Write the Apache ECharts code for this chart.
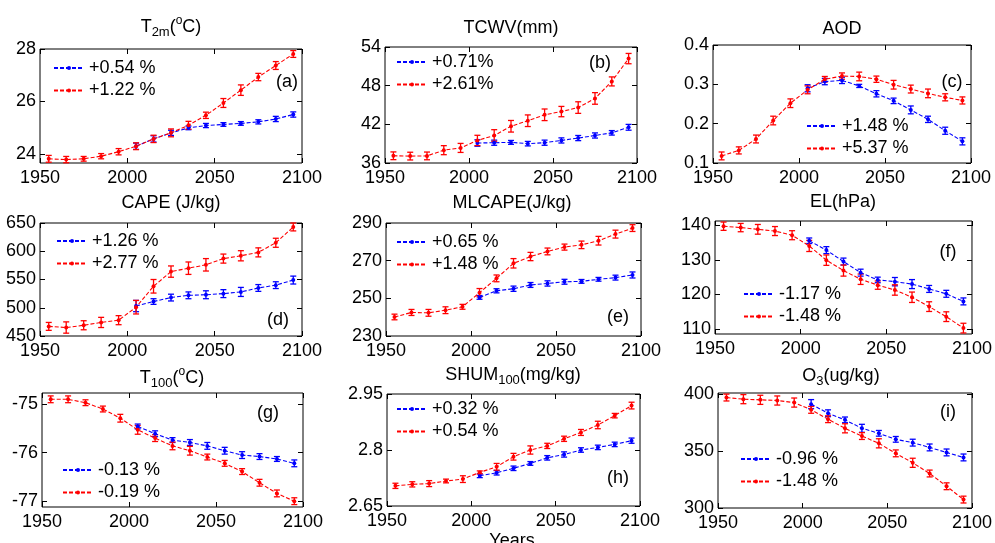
<!DOCTYPE html>
<html><head><meta charset="utf-8">
<script src="https://cdn.jsdelivr.net/npm/echarts@6/dist/echarts.min.js"></script>
<style>html,body{margin:0;padding:0;background:#fff}#c{width:995px;height:543px}</style>
</head><body><div id="c"></div>
<script>
// ---------- DATA ----------
const yearsAll = [1955,1965,1975,1985,1995,2005,2015,2025,2035,2045,2055,2065,2075,2085,2095];
const yearsFuture = [2005,2015,2025,2035,2045,2055,2065,2075,2085,2095];
const xTicks = [1950, 2000, 2050, 2100];

const t2mRed = [23.81,23.78,23.81,23.91,24.08,24.29,24.57,24.80,25.09,25.47,25.94,26.43,26.93,27.37,27.81];
const t2mRedErr = [0.13,0.12,0.09,0.1,0.12,0.13,0.14,0.15,0.15,0.12,0.17,0.2,0.14,0.15,0.13];
const t2mBlue = [24.29,24.57,24.80,24.99,25.08,25.12,25.16,25.22,25.33,25.50];
const t2mBlueErr = [0.12,0.12,0.1,0.07,0.08,0.07,0.07,0.08,0.1,0.1];
const t2mTicks = [24,26,28];
const t2mLegend = ['+0.54 %','+1.22 %'];

const tcwvRed = [37.12,37.07,37.10,37.99,38.34,39.50,40.27,41.70,42.56,43.48,43.98,44.60,46.02,48.66,52.20];
const tcwvRedErr = [0.6,0.6,0.6,0.7,0.7,0.8,0.9,0.9,0.9,0.9,0.8,0.9,0.9,0.7,0.8];
const tcwvBlue = [39.10,39.15,39.20,39.00,39.15,39.50,39.87,40.27,40.68,41.54];
const tcwvBlueErr = [0.5,0.4,0.3,0.35,0.4,0.4,0.4,0.4,0.35,0.45];
const tcwvTicks = [36,42,48,54];
const tcwvLegend = ['+0.71%','+2.61%'];

const aodRed = [0.118,0.132,0.161,0.208,0.252,0.286,0.313,0.321,0.320,0.313,0.299,0.288,0.277,0.267,0.259];
const aodRedErr = [0.01,0.009,0.01,0.011,0.011,0.01,0.007,0.008,0.011,0.008,0.011,0.01,0.011,0.009,0.009];
const aodBlue = [0.290,0.307,0.310,0.296,0.276,0.258,0.235,0.211,0.182,0.155];
const aodBlueErr = [0.009,0.008,0.008,0.004,0.008,0.007,0.01,0.008,0.009,0.009];
const aodTicks = [0.1,0.2,0.3,0.4];
const aodLegend = ['+1.48 %','+5.37 %'];

const capeRed = [467,465,469,474,478,501,538,564,570,576,587,592,598,615,643];
const capeRedErr = [7,10,8,9,8,12,12,10,11,11,8,9,8,8,7];
const capeBlue = [503,511,518,522,523,525,528,535,540,549];
const capeBlueErr = [10,5,6,6,7,7,8,6,6,7];
const capeTicks = [450,500,550,600,650];
const capeLegend = ['+1.26 %','+2.77 %'];

const mlcapeRed = [240.1,242.5,242.3,243.7,245.5,253.0,260.6,268.6,272.2,274.9,277.2,278.4,280.6,284.1,287.3];
const mlcapeRedErr = [1.5,1.6,1.8,1.8,1.3,2.2,1.8,2.5,2.2,1.8,1.6,2.0,2.3,2.1,1.8];
const mlcapeBlue = [250.5,254.0,255.1,257.1,257.9,258.8,259.0,260.1,261.0,262.4];
const mlcapeBlueErr = [1.0,1.1,1.4,1.3,1.4,1.3,1.0,1.0,1.3,1.6];
const mlcapeTicks = [230,250,270,290];
const mlcapeLegend = ['+0.65 %','+1.48 %'];

const elRed = [139.7,139.3,138.8,138.3,137.1,134.0,129.9,126.9,124.4,122.7,121.3,119.2,116.5,113.6,110.3];
const elRedErr = [1.2,1.2,1.4,1.3,1.3,1.6,1.5,1.6,1.5,1.2,1.5,1.5,1.4,1.4,1.4];
const elBlue = [135.5,132.8,129.5,126.3,124.2,123.7,123.0,121.6,120.2,118.0];
const elBlueErr = [0.8,1.0,1.0,1.0,0.8,1.2,1.3,1.0,1.0,1.0];
const elTicks = [110,120,130,140];
const elLegend = ['-1.17 %','-1.48 %'];

const t100Red = [-74.90,-74.90,-74.97,-75.10,-75.29,-75.53,-75.70,-75.86,-75.96,-76.09,-76.22,-76.39,-76.62,-76.84,-77.00];
const t100RedErr = [0.07,0.07,0.06,0.06,0.08,0.09,0.07,0.08,0.09,0.06,0.06,0.06,0.07,0.07,0.07];
const t100Blue = [-75.46,-75.61,-75.74,-75.79,-75.86,-75.96,-76.05,-76.08,-76.13,-76.22];
const t100BlueErr = [0.05,0.06,0.05,0.06,0.07,0.07,0.07,0.06,0.05,0.07];
const t100Ticks = [-77,-76,-75];
const t100Legend = ['-0.13 %','-0.19 %'];

const shumRed = [2.704,2.708,2.710,2.717,2.722,2.740,2.755,2.782,2.800,2.811,2.830,2.847,2.867,2.892,2.919];
const shumRedErr = [0.007,0.007,0.008,0.005,0.009,0.004,0.009,0.009,0.011,0.007,0.007,0.008,0.01,0.006,0.009];
const shumBlue = [2.731,2.739,2.751,2.764,2.779,2.788,2.800,2.807,2.815,2.825];
const shumBlueErr = [0.005,0.006,0.006,0.005,0.006,0.007,0.006,0.006,0.006,0.007];
const shumTicks = [2.65,2.8,2.95];
const shumLegend = ['+0.32 %','+0.54 %'];

const o3Red = [397.0,395.6,395.0,394.4,392.6,386.2,378.0,370.0,363.2,356.8,348.0,339.7,330.3,319.1,307.4];
const o3RedErr = [3,4,4,4,4,3,3,4,3,4,3,4,3,3,3];
const o3Blue = [391.2,383.2,377.4,370.0,365.6,360.3,357.4,353.2,348.8,344.4];
const o3BlueErr = [4,3,2.5,3.5,2.5,2.5,3,3,3,3];
const o3Ticks = [300,350,400];
const o3Legend = ['-0.96 %','-1.48 %'];

// ---------- LAYOUT / STYLE ----------
const FONT = 'Liberation Sans, Arial, sans-serif';
const RED = '#ff0000', BLUE = '#0000ff';

const panels = [
  {red:t2mRed, redErr:t2mRedErr, blue:t2mBlue, blueErr:t2mBlueErr, ticks:t2mTicks, legend:t2mLegend,
   yMin:23.65, yMax:28, grid:{left:40,top:49,width:262,height:114}, leg:[53,58],
   title:'{n|T}{sub|2m}{n|(}{sup|o}{n|C)}', tp:[171,27], tag:'(a)', tagp:[287,82]},
  {red:tcwvRed, redErr:tcwvRedErr, blue:tcwvBlue, blueErr:tcwvBlueErr, ticks:tcwvTicks, legend:tcwvLegend,
   yMin:36, yMax:54, grid:{left:385,top:47,width:252,height:116}, leg:[396,52],
   title:'{n|TCWV(mm)}', tp:[511,28], tag:'(b)', tagp:[600,63]},
  {red:aodRed, redErr:aodRedErr, blue:aodBlue, blueErr:aodBlueErr, ticks:aodTicks, legend:aodLegend,
   yMin:0.1, yMax:0.4, grid:{left:713,top:45,width:258,height:118}, leg:[806,116],
   title:'{n|AOD}', tp:[842,29], tag:'(c)', tagp:[952,82]},
  {red:capeRed, redErr:capeRedErr, blue:capeBlue, blueErr:capeBlueErr, ticks:capeTicks, legend:capeLegend,
   yMin:450, yMax:650, grid:{left:40,top:223,width:262,height:113}, leg:[56,231],
   title:'{n|CAPE (J/kg)}', tp:[171,203], tag:'(d)', tagp:[278,320]},
  {red:mlcapeRed, redErr:mlcapeRedErr, blue:mlcapeBlue, blueErr:mlcapeBlueErr, ticks:mlcapeTicks, legend:mlcapeLegend,
   yMin:230, yMax:290, grid:{left:386,top:223,width:255,height:113}, leg:[396,232],
   title:'{n|MLCAPE(J/kg)}', tp:[512,203], tag:'(e)', tagp:[618,317]},
  {red:elRed, redErr:elRedErr, blue:elBlue, blueErr:elBlueErr, ticks:elTicks, legend:elLegend,
   yMin:108.6, yMax:141.2, grid:{left:715,top:221,width:257,height:113}, leg:[743,284],
   title:'{n|EL(hPa)}', tp:[843,202], tag:'(f)', tagp:[948,252]},
  {red:t100Red, redErr:t100RedErr, blue:t100Blue, blueErr:t100BlueErr, ticks:t100Ticks, legend:t100Legend,
   yMin:-77.12, yMax:-74.77, grid:{left:42,top:393,width:261,height:114}, leg:[62,460],
   title:'{n|T}{sub|100}{n|(}{sup|o}{n|C)}', tp:[172,378], tag:'(g)', tagp:[268,413]},
  {red:shumRed, redErr:shumRedErr, blue:shumBlue, blueErr:shumBlueErr, ticks:shumTicks, legend:shumLegend,
   yMin:2.65, yMax:2.95, grid:{left:387,top:394,width:253,height:112}, leg:[396,399],
   title:'{n|SHUM}{sub|100}{n|(mg/kg)}', tp:[513,375], tag:'(h)', tagp:[618,478]},
  {red:o3Red, redErr:o3RedErr, blue:o3Blue, blueErr:o3BlueErr, ticks:o3Ticks, legend:o3Legend,
   yMin:300, yMax:401, grid:{left:718,top:393,width:257,height:115}, leg:[740,449],
   title:'{n|O}{sub|3}{n|(ug/kg)}', tp:[841,376], tag:'(i)', tagp:[948,412]}
];

function renderErr(params, api) {
  const x = api.value(0), lo = api.value(1), hi = api.value(2);
  const p1 = api.coord([x, lo]), p2 = api.coord([x, hi]);
  const w = 3;
  const style = {stroke: api.visual('color'), lineWidth: 1.3};
  return {type:'group', children:[
    {type:'line', shape:{x1:p1[0], y1:p1[1], x2:p2[0], y2:p2[1]}, style},
    {type:'line', shape:{x1:p1[0]-w, y1:p1[1], x2:p1[0]+w, y2:p1[1]}, style},
    {type:'line', shape:{x1:p2[0]-w, y1:p2[1], x2:p2[0]+w, y2:p2[1]}, style}
  ]};
}

const fmt = v => String(+(+v).toFixed(3));
const rich = {
  n: {fontSize:18, lineHeight:24, fontFamily:FONT, fill:'#000', color:'#000'},
  sub: {fontSize:13, lineHeight:12, verticalAlign:'bottom', fontFamily:FONT, fill:'#000', color:'#000'},
  sup: {fontSize:12, lineHeight:12, verticalAlign:'top', fontFamily:FONT, fill:'#000', color:'#000'}
};

const option = {animation:false, backgroundColor:'#fff', grid:[], xAxis:[], yAxis:[], series:[], legend:[], graphic:[]};
const labelNames = {};

panels.forEach((p, k) => {
  option.grid.push(Object.assign({show:true, borderColor:'#000', borderWidth:1, backgroundColor:'transparent'}, p.grid));
  const tickStyle = {show:true, inside:true, length:5, lineStyle:{color:'#000', width:1}};
  const xBase = {type:'value', gridIndex:k, min:xTicks[0], max:xTicks[xTicks.length-1], interval:50,
    axisLine:{show:false}, splitLine:{show:false}};
  option.xAxis.push(Object.assign({}, xBase, {position:'bottom',
    axisTick:Object.assign({customValues:xTicks}, tickStyle),
    axisLabel:{show:true, customValues:xTicks, margin:6, color:'#000', fontSize:18, fontFamily:FONT, formatter:v => String(v)}}));
  option.xAxis.push(Object.assign({}, xBase, {position:'top', axisTick:Object.assign({customValues:xTicks}, tickStyle), axisLabel:{show:false}}));
  const yBase = {type:'value', gridIndex:k, min:p.yMin, max:p.yMax, axisLine:{show:false}, splitLine:{show:false}};
  option.yAxis.push(Object.assign({}, yBase, {position:'left',
    axisTick:Object.assign({customValues:p.ticks}, tickStyle),
    axisLabel:{show:true, customValues:p.ticks, margin:4, color:'#000', fontSize:18, fontFamily:FONT, formatter:fmt}}));
  option.yAxis.push(Object.assign({}, yBase, {position:'right',
    axisTick:Object.assign({customValues:p.ticks}, tickStyle), axisLabel:{show:false}}));

  const xi = 2*k, yi = 2*k;
  const nb = 'b' + k, nr = 'r' + k;
  labelNames[nb] = p.legend[0];
  labelNames[nr] = p.legend[1];
  const blueData = yearsFuture.map((y, i) => [y, p.blue[i]]);
  const redData = yearsAll.map((y, i) => [y, p.red[i]]);
  const blueErr = yearsFuture.map((y, i) => [y, p.blue[i] - p.blueErr[i], p.blue[i] + p.blueErr[i]]);
  const redErr = yearsAll.map((y, i) => [y, p.red[i] - p.redErr[i], p.red[i] + p.redErr[i]]);
  const lineSer = (name, data, color) => ({type:'line', name, data, xAxisIndex:xi, yAxisIndex:yi,
    symbol:'circle', symbolSize:4, showSymbol:true, color,
    itemStyle:{color}, lineStyle:{color, width:1.1, type:[4,2]}});
  const errSer = (name, data, color) => ({type:'custom', name, data, xAxisIndex:xi, yAxisIndex:yi,
    renderItem:renderErr, itemStyle:{color}, encode:{x:0, y:[1,2]}});
  option.series.push(lineSer(nb, blueData, BLUE), errSer('eb'+k, blueErr, BLUE),
                     lineSer(nr, redData, RED), errSer('er'+k, redErr, RED));

  option.legend.push({data:[nb, nr], orient:'vertical', left:p.leg[0], top:p.leg[1], padding:0,
    itemWidth:30, itemHeight:5, itemGap:2.5, selectedMode:false,
    formatter: n => labelNames[n],
    textStyle:{color:'#000', fontSize:18, fontFamily:FONT, lineHeight:20}});

  option.graphic.push({type:'text', x:p.tp[0], y:p.tp[1], silent:true,
    style:{text:p.title, rich, align:'center', verticalAlign:'middle', fill:'#000', fontSize:18, fontFamily:FONT}});
  option.graphic.push({type:'text', x:p.tagp[0], y:p.tagp[1], silent:true,
    style:{text:p.tag, align:'center', verticalAlign:'middle', fill:'#000', fontSize:18, fontFamily:FONT}});
});
option.graphic.push({type:'text', x:512, y:541, silent:true,
  style:{text:'Years', align:'center', verticalAlign:'middle', fill:'#000', fontSize:18, fontFamily:FONT}});

const chart = echarts.init(document.getElementById('c'), null, {renderer:'canvas'});
chart.setOption(option);
</script></body></html>
